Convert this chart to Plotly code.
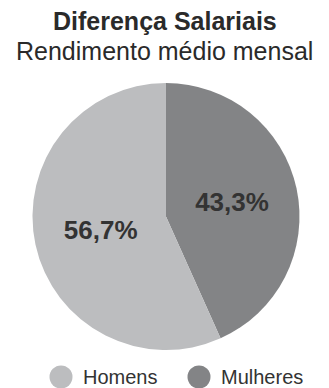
import plotly.graph_objects as go

labels = ["Homens", "Mulheres"]
values = [56.7, 43.3]
colors = ["#bcbdbf", "#838486"]
title_text = "Diferença Salariais"
subtitle_text = "Rendimento médio mensal"

W, H = 329, 388
FONT = "Liberation Sans, Arial, sans-serif"

# Mulheres slice starts at 12 o'clock going clockwise
order = [1, 0]
fig = go.Figure(go.Pie(
    labels=[labels[i] for i in order],
    values=[values[i] for i in order],
    sort=False,
    direction="clockwise",
    rotation=0,
    marker=dict(colors=[colors[i] for i in order], line=dict(width=0)),
    texttemplate="%{value:.1f}%",
    textposition="inside",
    insidetextorientation="horizontal",
    textfont=dict(family=FONT, size=26, color="#333333", weight="bold"),
    showlegend=False,
    hoverinfo="label+percent",
    domain=dict(x=[32 / W, 300 / W], y=[38 / H, 305 / H]),
))

annotations = [
    dict(text="<b>" + title_text + "</b>", x=0.5, y=1 - 21 / H, xref="paper", yref="paper",
         showarrow=False, font=dict(family=FONT, size=25, color="#2a2a2a"),
         xanchor="center", yanchor="middle"),
    dict(text=subtitle_text, x=0.5, y=1 - 51 / H, xref="paper", yref="paper",
         showarrow=False, font=dict(family=FONT, size=25, color="#2a2a2a"),
         xanchor="center", yanchor="middle"),
]
shapes = []
legend_x = [61, 199]
for i, (lab, col) in enumerate(zip(labels, colors)):
    cx = legend_x[i] / W
    cy = 1 - 377 / H
    shapes.append(dict(type="circle", xref="paper", yref="paper",
                       xsizemode="pixel", ysizemode="pixel",
                       xanchor=cx, yanchor=cy, x0=-11.5, x1=11.5, y0=-11.5, y1=11.5,
                       fillcolor=col, line=dict(width=0)))
    annotations.append(dict(text=lab, x=(legend_x[i] + 20) / W, y=cy, xref="paper", yref="paper",
                            showarrow=False, xanchor="left", yanchor="middle",
                            font=dict(family=FONT, size=20, color="#333333")))

fig.update_layout(
    width=W, height=H,
    margin=dict(l=0, r=0, t=0, b=0),
    paper_bgcolor="white",
    plot_bgcolor="white",
    separators=",.",
    annotations=annotations,
    shapes=shapes,
)

fig.write_html("out.html")
